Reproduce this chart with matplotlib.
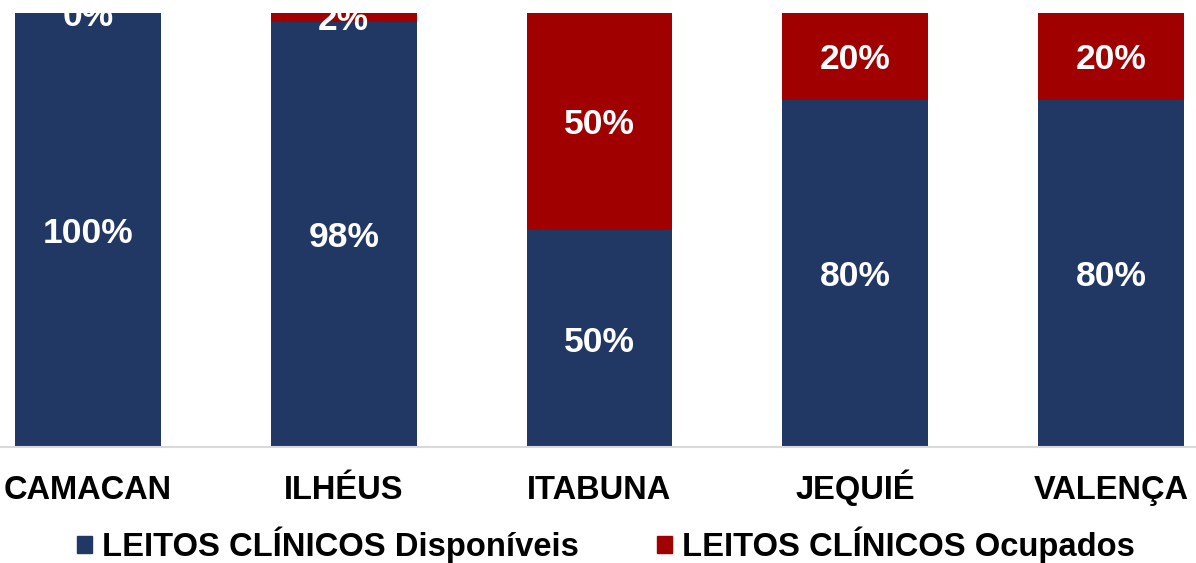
import matplotlib
matplotlib.use("Agg")
import matplotlib.pyplot as plt
from matplotlib.patches import Patch
from matplotlib.transforms import blended_transform_factory

categories = ["CAMACAN", "ILHÉUS", "ITABUNA", "JEQUIÉ", "VALENÇA"]
disponiveis = [100, 98, 50, 80, 80]
ocupados = [0, 2, 50, 20, 20]
series_names = ["LEITOS CLÍNICOS Disponíveis", "LEITOS CLÍNICOS Ocupados"]

blue = "#213864"
red = "#A00000"

plt.rcParams['font.family'] = ['Liberation Sans', 'DejaVu Sans']

W, H = 1196, 563
fig = plt.figure(figsize=(W / 100, H / 100), dpi=100)
ax = fig.add_axes([0, 1 - 447 / H, 1, 447 / H])

x = list(range(len(categories)))
width = 0.57
ax.bar(x, disponiveis, width, color=blue, label=series_names[0])
ax.bar(x, ocupados, width, bottom=disponiveis, color=red, label=series_names[1])

for i in x:
    d, o = disponiveis[i], ocupados[i]
    ax.text(i, d / 2, f"{d}%", ha="center", va="center_baseline", color="white",
            fontsize=25.5, fontweight="bold")
    ax.text(i, d + o / 2, f"{o}%", ha="center", va="center_baseline", color="white",
            fontsize=25.5, fontweight="bold", clip_on=True)

ax.set_xlim(-88 / 256, 4 + 85 / 256)
ax.set_ylim(0, 100 * (1 + 13 / 434))
ax.set_yticks([])
ax.set_xticks(x)
ax.set_xticklabels([])
ax.tick_params(axis="x", length=0)
for s in ["top", "right", "left"]:
    ax.spines[s].set_visible(False)
ax.spines["bottom"].set_color("#d9d9d9")
ax.spines["bottom"].set_linewidth(1.5)

trans = blended_transform_factory(ax.transData, fig.transFigure)
for i, c in zip(x, categories):
    fig.text(i, 1 - 499 / H, c, transform=trans, ha="center", va="baseline",
             fontsize=23.5, fontweight="bold", color="black")

handles = [Patch(color=blue), Patch(color=red)]
fig.legend(handles, series_names, loc="center", bbox_to_anchor=(606 / W, 1 - 545 / H),
           ncol=2, frameon=False, prop={"weight": "bold", "size": 23.6},
           handlelength=0.46, handleheight=0.46, handletextpad=0.3, columnspacing=2.4)

fig.savefig("out.png", dpi=100)
